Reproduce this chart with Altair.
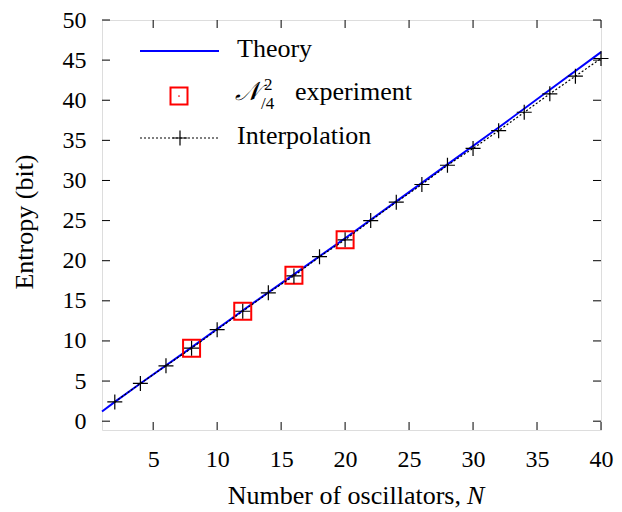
import altair as alt
import pandas as pd

# ---- data ----
n_interp = [2, 4, 6, 8, 10, 12, 14, 16, 18, 20, 22, 24, 26, 28, 30, 32, 34, 36, 38, 40]
s_interp = [2.4, 4.7, 6.9, 9.1, 11.4, 13.7, 16.0, 18.1, 20.5, 22.6, 25.0, 27.3, 29.5,
            31.9, 34.0, 36.2, 38.5, 40.8, 43.0, 45.2]
n_exp = [8, 12, 16, 20]
s_exp = [9.1, 13.7, 18.2, 22.6]
n_theory = [1, 2, 4, 8, 12, 16, 20, 24, 28, 32, 36, 40]
s_theory = [1.2, 2.4, 4.7, 9.2, 13.8, 18.3, 22.8, 27.4, 32.0, 36.6, 41.3, 46.0]
x_ticks = [5, 10, 15, 20, 25, 30, 35, 40]
y_ticks = [0, 5, 10, 15, 20, 25, 30, 35, 40, 45, 50]

W, H = 499, 410
FONT = "Liberation Serif"
FS = 24
FT = 26

df_interp = pd.DataFrame({"N": n_interp, "S": s_interp})
df_exp = pd.DataFrame({"N": n_exp, "S": s_exp})
df_theory = pd.DataFrame({"N": n_theory, "S": s_theory})
df_xt = pd.DataFrame({"N": x_ticks})
df_yt = pd.DataFrame({"S": y_ticks})
one = pd.DataFrame({"k": [0]})

xs = alt.Scale(domain=[1, 40], nice=False, zero=False)
ys = alt.Scale(domain=[-1.1, 50], nice=False, zero=False)
xaxis = alt.Axis(values=x_ticks, title=None, ticks=False, domain=False, grid=False,
                 labelFont=FONT, labelFontSize=FS, labelColor="black", labelPadding=17,
                 labelFlush=False, labelOverlap=False)
yaxis = alt.Axis(values=y_ticks, title=None, ticks=False, domain=False, grid=False,
                 labelFont=FONT, labelFontSize=FS, labelColor="black", labelPadding=16,
                 labelFlush=False, labelOverlap=False)
X = alt.X("N:Q", scale=xs, axis=xaxis)
Y = alt.Y("S:Q", scale=ys, axis=yaxis)

plus_path = "M-1,0H1M0,-1V1"

theory = alt.Chart(df_theory).mark_line(color="#0000ff", strokeWidth=2).encode(x=X, y=Y)
exp_sq = alt.Chart(df_exp).mark_point(shape="square", size=289, filled=False,
                                      color="#ff0000", strokeWidth=2, opacity=1).encode(x=X, y=Y)
exp_dot = alt.Chart(df_exp).mark_circle(size=3, color="#ff0000", opacity=1).encode(x=X, y=Y)
interp_line = alt.Chart(df_interp).mark_line(color="black", strokeWidth=1.2,
                                             strokeDash=[2, 2]).encode(x=X, y=Y)
interp_pts = alt.Chart(df_interp).mark_point(shape=plus_path, size=225, filled=False,
                                             color="black", strokeWidth=1.2, opacity=1).encode(x=X, y=Y)

# inward ticks on all four sides
tk = dict(color="black", strokeWidth=1)
t_top = alt.Chart(df_xt).mark_rule(**tk).encode(x=X, y=alt.value(0), y2=alt.value(8))
t_bot = alt.Chart(df_xt).mark_rule(**tk).encode(x=X, y=alt.value(H), y2=alt.value(H - 8))
t_left = alt.Chart(df_yt).mark_rule(**tk).encode(y=Y, x=alt.value(0), x2=alt.value(8))
t_right = alt.Chart(df_yt).mark_rule(**tk).encode(y=Y, x=alt.value(W), x2=alt.value(W - 8))

def txt(s, x, y, **kw):
    params = dict(text=s, font=FONT, fontSize=FT, color="black", align="left",
                  baseline="alphabetic")
    params.update(kw)
    return alt.Chart(one).mark_text(**params).encode(x=alt.value(x), y=alt.value(y))

# legend
leg_line = alt.Chart(one).mark_rule(color="#0000ff", strokeWidth=2).encode(
    x=alt.value(38), x2=alt.value(117), y=alt.value(31))
leg_sq = alt.Chart(one).mark_point(shape="square", size=289, filled=False, color="#ff0000",
                                   strokeWidth=2, opacity=1).encode(x=alt.value(77), y=alt.value(76))
leg_dot = alt.Chart(one).mark_circle(size=3, color="#ff0000", opacity=1).encode(
    x=alt.value(77), y=alt.value(76))
leg_dash = alt.Chart(one).mark_rule(color="black", strokeWidth=1.2, strokeDash=[2, 2]).encode(
    x=alt.value(38), x2=alt.value(117), y=alt.value(118))
leg_plus = alt.Chart(one).mark_point(shape=plus_path, size=225, filled=False, color="black",
                                     strokeWidth=1.2, opacity=1).encode(x=alt.value(78), y=alt.value(118))

texts = [
    txt("Theory", 135, 37),
    txt("\U0001D4A9", 133, 80, fontStyle="italic"),
    txt("2", 162, 70, fontSize=17),
    txt("/4", 159, 89, fontSize=17),
    txt("experiment", 193, 80),
    txt("Interpolation", 135, 124),
    txt("Number of oscillators,", 359, 484, align="right"),
    txt("N", 365, 484, fontStyle="italic"),
    txt("Entropy (bit)", -69, 202, angle=270, align="center"),
]

chart = alt.layer(
    t_top, t_bot, t_left, t_right,
    theory, exp_sq, exp_dot, interp_line, interp_pts,
    leg_line, leg_sq, leg_dot, leg_dash, leg_plus,
    *texts,
).properties(
    width=W, height=H,
    autosize=alt.AutoSizeParams(type="none"),
    padding={"left": 94, "top": 12, "right": 13, "bottom": 84},
).configure_view(stroke="black", strokeWidth=1.2).configure(background="white")

chart.save("out.html", embed_options={"renderer": "svg", "actions": False})
